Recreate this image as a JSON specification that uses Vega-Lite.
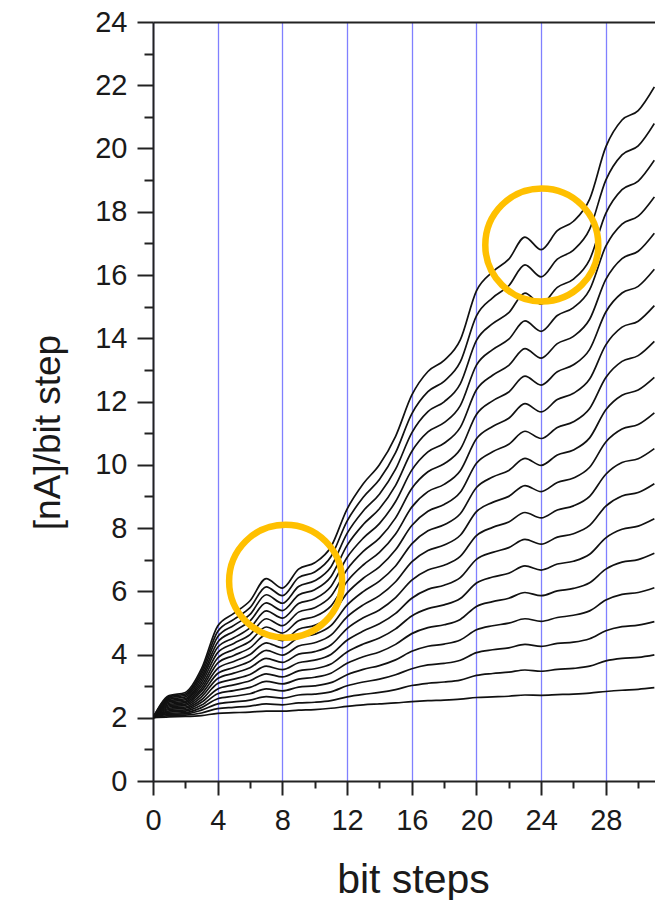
{
"$schema": "https://vega.github.io/schema/vega-lite/v6.json",
"width": 502, "height": 759,
"autosize": {"type": "none"},
"padding": {"left": 153, "top": 22, "right": 0, "bottom": 119},
"background": "white",
"config": {"view": {"stroke": null}, "font": "Liberation Sans",
  "axis": {"labelFont": "Liberation Sans", "titleFont": "Liberation Sans", "domainColor": "#222", "tickColor": "#222", "labelColor": "#1a1a1a", "titleColor": "#1a1a1a"}},
"datasets": {
"marks": [{"x": 8.2, "y": 6.32}, {"x": 24.04, "y": 16.95}],
"curves": [
{"c":1,"x":0,"y":2},{"c":1,"x":1,"y":2.03},{"c":1,"x":2,"y":2.04},{"c":1,"x":3,"y":2.07},{"c":1,"x":4,"y":2.14},{"c":1,"x":5,"y":2.16},{"c":1,"x":6,"y":2.18},{"c":1,"x":7,"y":2.21},{"c":1,"x":8,"y":2.21},{"c":1,"x":9,"y":2.24},{"c":1,"x":10,"y":2.26},{"c":1,"x":11,"y":2.3},{"c":1,"x":12,"y":2.36},{"c":1,"x":13,"y":2.41},{"c":1,"x":14,"y":2.44},{"c":1,"x":15,"y":2.47},{"c":1,"x":16,"y":2.51},{"c":1,"x":17,"y":2.54},{"c":1,"x":18,"y":2.56},{"c":1,"x":19,"y":2.59},{"c":1,"x":20,"y":2.64},{"c":1,"x":21,"y":2.66},{"c":1,"x":22,"y":2.68},{"c":1,"x":23,"y":2.72},{"c":1,"x":24,"y":2.71},{"c":1,"x":25,"y":2.73},{"c":1,"x":26,"y":2.75},{"c":1,"x":27,"y":2.78},{"c":1,"x":28,"y":2.83},{"c":1,"x":29,"y":2.87},{"c":1,"x":30,"y":2.9},{"c":1,"x":31,"y":2.95},
{"c":2,"x":0,"y":2},{"c":2,"x":1,"y":2.07},{"c":2,"x":2,"y":2.08},{"c":2,"x":3,"y":2.15},{"c":2,"x":4,"y":2.29},{"c":2,"x":5,"y":2.33},{"c":2,"x":6,"y":2.37},{"c":2,"x":7,"y":2.44},{"c":2,"x":8,"y":2.41},{"c":2,"x":9,"y":2.47},{"c":2,"x":10,"y":2.49},{"c":2,"x":11,"y":2.54},{"c":2,"x":12,"y":2.66},{"c":2,"x":13,"y":2.74},{"c":2,"x":14,"y":2.8},{"c":2,"x":15,"y":2.89},{"c":2,"x":16,"y":3.02},{"c":2,"x":17,"y":3.09},{"c":2,"x":18,"y":3.13},{"c":2,"x":19,"y":3.19},{"c":2,"x":20,"y":3.34},{"c":2,"x":21,"y":3.4},{"c":2,"x":22,"y":3.44},{"c":2,"x":23,"y":3.51},{"c":2,"x":24,"y":3.47},{"c":2,"x":25,"y":3.53},{"c":2,"x":26,"y":3.56},{"c":2,"x":27,"y":3.63},{"c":2,"x":28,"y":3.8},{"c":2,"x":29,"y":3.88},{"c":2,"x":30,"y":3.91},{"c":2,"x":31,"y":3.99},
{"c":3,"x":0,"y":2},{"c":3,"x":1,"y":2.11},{"c":3,"x":2,"y":2.12},{"c":3,"x":3,"y":2.24},{"c":3,"x":4,"y":2.44},{"c":3,"x":5,"y":2.5},{"c":3,"x":6,"y":2.56},{"c":3,"x":7,"y":2.67},{"c":3,"x":8,"y":2.62},{"c":3,"x":9,"y":2.72},{"c":3,"x":10,"y":2.75},{"c":3,"x":11,"y":2.82},{"c":3,"x":12,"y":3.01},{"c":3,"x":13,"y":3.13},{"c":3,"x":14,"y":3.22},{"c":3,"x":15,"y":3.36},{"c":3,"x":16,"y":3.55},{"c":3,"x":17,"y":3.67},{"c":3,"x":18,"y":3.72},{"c":3,"x":19,"y":3.82},{"c":3,"x":20,"y":4.06},{"c":3,"x":21,"y":4.15},{"c":3,"x":22,"y":4.21},{"c":3,"x":23,"y":4.32},{"c":3,"x":24,"y":4.26},{"c":3,"x":25,"y":4.35},{"c":3,"x":26,"y":4.39},{"c":3,"x":27,"y":4.5},{"c":3,"x":28,"y":4.75},{"c":3,"x":29,"y":4.88},{"c":3,"x":30,"y":4.93},{"c":3,"x":31,"y":5.04},
{"c":4,"x":0,"y":2},{"c":4,"x":1,"y":2.14},{"c":4,"x":2,"y":2.16},{"c":4,"x":3,"y":2.32},{"c":4,"x":4,"y":2.6},{"c":4,"x":5,"y":2.68},{"c":4,"x":6,"y":2.76},{"c":4,"x":7,"y":2.91},{"c":4,"x":8,"y":2.85},{"c":4,"x":9,"y":2.97},{"c":4,"x":10,"y":3.01},{"c":4,"x":11,"y":3.11},{"c":4,"x":12,"y":3.36},{"c":4,"x":13,"y":3.53},{"c":4,"x":14,"y":3.65},{"c":4,"x":15,"y":3.83},{"c":4,"x":16,"y":4.1},{"c":4,"x":17,"y":4.26},{"c":4,"x":18,"y":4.33},{"c":4,"x":19,"y":4.46},{"c":4,"x":20,"y":4.78},{"c":4,"x":21,"y":4.91},{"c":4,"x":22,"y":4.99},{"c":4,"x":23,"y":5.13},{"c":4,"x":24,"y":5.05},{"c":4,"x":25,"y":5.17},{"c":4,"x":26,"y":5.24},{"c":4,"x":27,"y":5.38},{"c":4,"x":28,"y":5.72},{"c":4,"x":29,"y":5.9},{"c":4,"x":30,"y":5.96},{"c":4,"x":31,"y":6.11},
{"c":5,"x":0,"y":2},{"c":5,"x":1,"y":2.18},{"c":5,"x":2,"y":2.21},{"c":5,"x":3,"y":2.4},{"c":5,"x":4,"y":2.76},{"c":5,"x":5,"y":2.86},{"c":5,"x":6,"y":2.96},{"c":5,"x":7,"y":3.15},{"c":5,"x":8,"y":3.07},{"c":5,"x":9,"y":3.22},{"c":5,"x":10,"y":3.28},{"c":5,"x":11,"y":3.41},{"c":5,"x":12,"y":3.72},{"c":5,"x":13,"y":3.93},{"c":5,"x":14,"y":4.08},{"c":5,"x":15,"y":4.32},{"c":5,"x":16,"y":4.66},{"c":5,"x":17,"y":4.85},{"c":5,"x":18,"y":4.94},{"c":5,"x":19,"y":5.11},{"c":5,"x":20,"y":5.52},{"c":5,"x":21,"y":5.67},{"c":5,"x":22,"y":5.78},{"c":5,"x":23,"y":5.96},{"c":5,"x":24,"y":5.86},{"c":5,"x":25,"y":6.01},{"c":5,"x":26,"y":6.09},{"c":5,"x":27,"y":6.27},{"c":5,"x":28,"y":6.7},{"c":5,"x":29,"y":6.92},{"c":5,"x":30,"y":7.0},{"c":5,"x":31,"y":7.2},
{"c":6,"x":0,"y":2},{"c":6,"x":1,"y":2.22},{"c":6,"x":2,"y":2.25},{"c":6,"x":3,"y":2.49},{"c":6,"x":4,"y":2.91},{"c":6,"x":5,"y":3.04},{"c":6,"x":6,"y":3.17},{"c":6,"x":7,"y":3.39},{"c":6,"x":8,"y":3.29},{"c":6,"x":9,"y":3.48},{"c":6,"x":10,"y":3.55},{"c":6,"x":11,"y":3.7},{"c":6,"x":12,"y":4.08},{"c":6,"x":13,"y":4.33},{"c":6,"x":14,"y":4.52},{"c":6,"x":15,"y":4.81},{"c":6,"x":16,"y":5.22},{"c":6,"x":17,"y":5.45},{"c":6,"x":18,"y":5.57},{"c":6,"x":19,"y":5.77},{"c":6,"x":20,"y":6.26},{"c":6,"x":21,"y":6.45},{"c":6,"x":22,"y":6.57},{"c":6,"x":23,"y":6.8},{"c":6,"x":24,"y":6.67},{"c":6,"x":25,"y":6.86},{"c":6,"x":26,"y":6.95},{"c":6,"x":27,"y":7.17},{"c":6,"x":28,"y":7.69},{"c":6,"x":29,"y":7.96},{"c":6,"x":30,"y":8.06},{"c":6,"x":31,"y":8.29},
{"c":7,"x":0,"y":2},{"c":7,"x":1,"y":2.26},{"c":7,"x":2,"y":2.3},{"c":7,"x":3,"y":2.57},{"c":7,"x":4,"y":3.08},{"c":7,"x":5,"y":3.22},{"c":7,"x":6,"y":3.37},{"c":7,"x":7,"y":3.63},{"c":7,"x":8,"y":3.52},{"c":7,"x":9,"y":3.74},{"c":7,"x":10,"y":3.82},{"c":7,"x":11,"y":4.0},{"c":7,"x":12,"y":4.45},{"c":7,"x":13,"y":4.74},{"c":7,"x":14,"y":4.97},{"c":7,"x":15,"y":5.3},{"c":7,"x":16,"y":5.78},{"c":7,"x":17,"y":6.06},{"c":7,"x":18,"y":6.19},{"c":7,"x":19,"y":6.43},{"c":7,"x":20,"y":7.01},{"c":7,"x":21,"y":7.23},{"c":7,"x":22,"y":7.38},{"c":7,"x":23,"y":7.64},{"c":7,"x":24,"y":7.49},{"c":7,"x":25,"y":7.71},{"c":7,"x":26,"y":7.82},{"c":7,"x":27,"y":8.08},{"c":7,"x":28,"y":8.69},{"c":7,"x":29,"y":9.01},{"c":7,"x":30,"y":9.12},{"c":7,"x":31,"y":9.4},
{"c":8,"x":0,"y":2},{"c":8,"x":1,"y":2.3},{"c":8,"x":2,"y":2.34},{"c":8,"x":3,"y":2.66},{"c":8,"x":4,"y":3.24},{"c":8,"x":5,"y":3.41},{"c":8,"x":6,"y":3.58},{"c":8,"x":7,"y":3.88},{"c":8,"x":8,"y":3.75},{"c":8,"x":9,"y":4.01},{"c":8,"x":10,"y":4.09},{"c":8,"x":11,"y":4.3},{"c":8,"x":12,"y":4.82},{"c":8,"x":13,"y":5.16},{"c":8,"x":14,"y":5.41},{"c":8,"x":15,"y":5.8},{"c":8,"x":16,"y":6.35},{"c":8,"x":17,"y":6.67},{"c":8,"x":18,"y":6.82},{"c":8,"x":19,"y":7.1},{"c":8,"x":20,"y":7.76},{"c":8,"x":21,"y":8.02},{"c":8,"x":22,"y":8.19},{"c":8,"x":23,"y":8.49},{"c":8,"x":24,"y":8.32},{"c":8,"x":25,"y":8.57},{"c":8,"x":26,"y":8.7},{"c":8,"x":27,"y":9.0},{"c":8,"x":28,"y":9.7},{"c":8,"x":29,"y":10.07},{"c":8,"x":30,"y":10.19},{"c":8,"x":31,"y":10.51},
{"c":9,"x":0,"y":2},{"c":9,"x":1,"y":2.34},{"c":9,"x":2,"y":2.39},{"c":9,"x":3,"y":2.75},{"c":9,"x":4,"y":3.4},{"c":9,"x":5,"y":3.59},{"c":9,"x":6,"y":3.79},{"c":9,"x":7,"y":4.13},{"c":9,"x":8,"y":3.98},{"c":9,"x":9,"y":4.27},{"c":9,"x":10,"y":4.37},{"c":9,"x":11,"y":4.61},{"c":9,"x":12,"y":5.19},{"c":9,"x":13,"y":5.57},{"c":9,"x":14,"y":5.86},{"c":9,"x":15,"y":6.3},{"c":9,"x":16,"y":6.93},{"c":9,"x":17,"y":7.29},{"c":9,"x":18,"y":7.46},{"c":9,"x":19,"y":7.77},{"c":9,"x":20,"y":8.52},{"c":9,"x":21,"y":8.81},{"c":9,"x":22,"y":9.0},{"c":9,"x":23,"y":9.34},{"c":9,"x":24,"y":9.15},{"c":9,"x":25,"y":9.44},{"c":9,"x":26,"y":9.58},{"c":9,"x":27,"y":9.92},{"c":9,"x":28,"y":10.72},{"c":9,"x":29,"y":11.13},{"c":9,"x":30,"y":11.27},{"c":9,"x":31,"y":11.64},
{"c":10,"x":0,"y":2},{"c":10,"x":1,"y":2.38},{"c":10,"x":2,"y":2.43},{"c":10,"x":3,"y":2.84},{"c":10,"x":4,"y":3.56},{"c":10,"x":5,"y":3.78},{"c":10,"x":6,"y":4.0},{"c":10,"x":7,"y":4.37},{"c":10,"x":8,"y":4.21},{"c":10,"x":9,"y":4.54},{"c":10,"x":10,"y":4.64},{"c":10,"x":11,"y":4.91},{"c":10,"x":12,"y":5.56},{"c":10,"x":13,"y":5.99},{"c":10,"x":14,"y":6.32},{"c":10,"x":15,"y":6.8},{"c":10,"x":16,"y":7.5},{"c":10,"x":17,"y":7.91},{"c":10,"x":18,"y":8.1},{"c":10,"x":19,"y":8.45},{"c":10,"x":20,"y":9.28},{"c":10,"x":21,"y":9.61},{"c":10,"x":22,"y":9.82},{"c":10,"x":23,"y":10.2},{"c":10,"x":24,"y":9.98},{"c":10,"x":25,"y":10.31},{"c":10,"x":26,"y":10.47},{"c":10,"x":27,"y":10.85},{"c":10,"x":28,"y":11.74},{"c":10,"x":29,"y":12.2},{"c":10,"x":30,"y":12.36},{"c":10,"x":31,"y":12.76},
{"c":11,"x":0,"y":2},{"c":11,"x":1,"y":2.42},{"c":11,"x":2,"y":2.48},{"c":11,"x":3,"y":2.92},{"c":11,"x":4,"y":3.73},{"c":11,"x":5,"y":3.97},{"c":11,"x":6,"y":4.21},{"c":11,"x":7,"y":4.62},{"c":11,"x":8,"y":4.44},{"c":11,"x":9,"y":4.8},{"c":11,"x":10,"y":4.92},{"c":11,"x":11,"y":5.22},{"c":11,"x":12,"y":5.94},{"c":11,"x":13,"y":6.41},{"c":11,"x":14,"y":6.77},{"c":11,"x":15,"y":7.31},{"c":11,"x":16,"y":8.08},{"c":11,"x":17,"y":8.53},{"c":11,"x":18,"y":8.74},{"c":11,"x":19,"y":9.13},{"c":11,"x":20,"y":10.05},{"c":11,"x":21,"y":10.41},{"c":11,"x":22,"y":10.65},{"c":11,"x":23,"y":11.06},{"c":11,"x":24,"y":10.83},{"c":11,"x":25,"y":11.18},{"c":11,"x":26,"y":11.36},{"c":11,"x":27,"y":11.78},{"c":11,"x":28,"y":12.76},{"c":11,"x":29,"y":13.27},{"c":11,"x":30,"y":13.45},{"c":11,"x":31,"y":13.9},
{"c":12,"x":0,"y":2},{"c":12,"x":1,"y":2.46},{"c":12,"x":2,"y":2.52},{"c":12,"x":3,"y":3.01},{"c":12,"x":4,"y":3.89},{"c":12,"x":5,"y":4.16},{"c":12,"x":6,"y":4.42},{"c":12,"x":7,"y":4.87},{"c":12,"x":8,"y":4.68},{"c":12,"x":9,"y":5.07},{"c":12,"x":10,"y":5.2},{"c":12,"x":11,"y":5.53},{"c":12,"x":12,"y":6.31},{"c":12,"x":13,"y":6.83},{"c":12,"x":14,"y":7.23},{"c":12,"x":15,"y":7.81},{"c":12,"x":16,"y":8.66},{"c":12,"x":17,"y":9.15},{"c":12,"x":18,"y":9.38},{"c":12,"x":19,"y":9.81},{"c":12,"x":20,"y":10.82},{"c":12,"x":21,"y":11.21},{"c":12,"x":22,"y":11.47},{"c":12,"x":23,"y":11.93},{"c":12,"x":24,"y":11.67},{"c":12,"x":25,"y":12.06},{"c":12,"x":26,"y":12.26},{"c":12,"x":27,"y":12.71},{"c":12,"x":28,"y":13.79},{"c":12,"x":29,"y":14.35},{"c":12,"x":30,"y":14.54},{"c":12,"x":31,"y":15.03},
{"c":13,"x":0,"y":2},{"c":13,"x":1,"y":2.5},{"c":13,"x":2,"y":2.57},{"c":13,"x":3,"y":3.1},{"c":13,"x":4,"y":4.06},{"c":13,"x":5,"y":4.35},{"c":13,"x":6,"y":4.63},{"c":13,"x":7,"y":5.13},{"c":13,"x":8,"y":4.91},{"c":13,"x":9,"y":5.34},{"c":13,"x":10,"y":5.48},{"c":13,"x":11,"y":5.84},{"c":13,"x":12,"y":6.69},{"c":13,"x":13,"y":7.26},{"c":13,"x":14,"y":7.68},{"c":13,"x":15,"y":8.32},{"c":13,"x":16,"y":9.25},{"c":13,"x":17,"y":9.78},{"c":13,"x":18,"y":10.03},{"c":13,"x":19,"y":10.49},{"c":13,"x":20,"y":11.59},{"c":13,"x":21,"y":12.02},{"c":13,"x":22,"y":12.3},{"c":13,"x":23,"y":12.8},{"c":13,"x":24,"y":12.52},{"c":13,"x":25,"y":12.94},{"c":13,"x":26,"y":13.16},{"c":13,"x":27,"y":13.65},{"c":13,"x":28,"y":14.83},{"c":13,"x":29,"y":15.43},{"c":13,"x":30,"y":15.64},{"c":13,"x":31,"y":16.18},
{"c":14,"x":0,"y":2},{"c":14,"x":1,"y":2.54},{"c":14,"x":2,"y":2.61},{"c":14,"x":3,"y":3.19},{"c":14,"x":4,"y":4.23},{"c":14,"x":5,"y":4.53},{"c":14,"x":6,"y":4.84},{"c":14,"x":7,"y":5.38},{"c":14,"x":8,"y":5.15},{"c":14,"x":9,"y":5.61},{"c":14,"x":10,"y":5.76},{"c":14,"x":11,"y":6.15},{"c":14,"x":12,"y":7.07},{"c":14,"x":13,"y":7.68},{"c":14,"x":14,"y":8.14},{"c":14,"x":15,"y":8.84},{"c":14,"x":16,"y":9.83},{"c":14,"x":17,"y":10.41},{"c":14,"x":18,"y":10.68},{"c":14,"x":19,"y":11.18},{"c":14,"x":20,"y":12.37},{"c":14,"x":21,"y":12.83},{"c":14,"x":22,"y":13.14},{"c":14,"x":23,"y":13.67},{"c":14,"x":24,"y":13.37},{"c":14,"x":25,"y":13.83},{"c":14,"x":26,"y":14.06},{"c":14,"x":27,"y":14.6},{"c":14,"x":28,"y":15.86},{"c":14,"x":29,"y":16.52},{"c":14,"x":30,"y":16.75},{"c":14,"x":31,"y":17.32},
{"c":15,"x":0,"y":2},{"c":15,"x":1,"y":2.58},{"c":15,"x":2,"y":2.66},{"c":15,"x":3,"y":3.28},{"c":15,"x":4,"y":4.39},{"c":15,"x":5,"y":4.73},{"c":15,"x":6,"y":5.06},{"c":15,"x":7,"y":5.63},{"c":15,"x":8,"y":5.39},{"c":15,"x":9,"y":5.88},{"c":15,"x":10,"y":6.05},{"c":15,"x":11,"y":6.46},{"c":15,"x":12,"y":7.45},{"c":15,"x":13,"y":8.11},{"c":15,"x":14,"y":8.61},{"c":15,"x":15,"y":9.35},{"c":15,"x":16,"y":10.42},{"c":15,"x":17,"y":11.04},{"c":15,"x":18,"y":11.33},{"c":15,"x":19,"y":11.87},{"c":15,"x":20,"y":13.15},{"c":15,"x":21,"y":13.64},{"c":15,"x":22,"y":13.97},{"c":15,"x":23,"y":14.55},{"c":15,"x":24,"y":14.22},{"c":15,"x":25,"y":14.72},{"c":15,"x":26,"y":14.97},{"c":15,"x":27,"y":15.54},{"c":15,"x":28,"y":16.91},{"c":15,"x":29,"y":17.61},{"c":15,"x":30,"y":17.86},{"c":15,"x":31,"y":18.47},
{"c":16,"x":0,"y":2},{"c":16,"x":1,"y":2.62},{"c":16,"x":2,"y":2.71},{"c":16,"x":3,"y":3.37},{"c":16,"x":4,"y":4.56},{"c":16,"x":5,"y":4.92},{"c":16,"x":6,"y":5.27},{"c":16,"x":7,"y":5.89},{"c":16,"x":8,"y":5.62},{"c":16,"x":9,"y":6.15},{"c":16,"x":10,"y":6.33},{"c":16,"x":11,"y":6.77},{"c":16,"x":12,"y":7.83},{"c":16,"x":13,"y":8.54},{"c":16,"x":14,"y":9.07},{"c":16,"x":15,"y":9.86},{"c":16,"x":16,"y":11.01},{"c":16,"x":17,"y":11.68},{"c":16,"x":18,"y":11.99},{"c":16,"x":19,"y":12.56},{"c":16,"x":20,"y":13.93},{"c":16,"x":21,"y":14.46},{"c":16,"x":22,"y":14.81},{"c":16,"x":23,"y":15.43},{"c":16,"x":24,"y":15.08},{"c":16,"x":25,"y":15.61},{"c":16,"x":26,"y":15.87},{"c":16,"x":27,"y":16.49},{"c":16,"x":28,"y":17.95},{"c":16,"x":29,"y":18.7},{"c":16,"x":30,"y":18.97},{"c":16,"x":31,"y":19.63},
{"c":17,"x":0,"y":2},{"c":17,"x":1,"y":2.66},{"c":17,"x":2,"y":2.75},{"c":17,"x":3,"y":3.46},{"c":17,"x":4,"y":4.73},{"c":17,"x":5,"y":5.11},{"c":17,"x":6,"y":5.48},{"c":17,"x":7,"y":6.14},{"c":17,"x":8,"y":5.86},{"c":17,"x":9,"y":6.43},{"c":17,"x":10,"y":6.61},{"c":17,"x":11,"y":7.09},{"c":17,"x":12,"y":8.22},{"c":17,"x":13,"y":8.97},{"c":17,"x":14,"y":9.53},{"c":17,"x":15,"y":10.38},{"c":17,"x":16,"y":11.61},{"c":17,"x":17,"y":12.31},{"c":17,"x":18,"y":12.64},{"c":17,"x":19,"y":13.25},{"c":17,"x":20,"y":14.71},{"c":17,"x":21,"y":15.28},{"c":17,"x":22,"y":15.66},{"c":17,"x":23,"y":16.32},{"c":17,"x":24,"y":15.94},{"c":17,"x":25,"y":16.5},{"c":17,"x":26,"y":16.79},{"c":17,"x":27,"y":17.45},{"c":17,"x":28,"y":19.0},{"c":17,"x":29,"y":19.8},{"c":17,"x":30,"y":20.08},{"c":17,"x":31,"y":20.79},
{"c":18,"x":0,"y":2},{"c":18,"x":1,"y":2.7},{"c":18,"x":2,"y":2.8},{"c":18,"x":3,"y":3.55},{"c":18,"x":4,"y":4.9},{"c":18,"x":5,"y":5.3},{"c":18,"x":6,"y":5.7},{"c":18,"x":7,"y":6.4},{"c":18,"x":8,"y":6.1},{"c":18,"x":9,"y":6.7},{"c":18,"x":10,"y":6.9},{"c":18,"x":11,"y":7.4},{"c":18,"x":12,"y":8.6},{"c":18,"x":13,"y":9.4},{"c":18,"x":14,"y":10.0},{"c":18,"x":15,"y":10.9},{"c":18,"x":16,"y":12.2},{"c":18,"x":17,"y":12.95},{"c":18,"x":18,"y":13.3},{"c":18,"x":19,"y":13.95},{"c":18,"x":20,"y":15.5},{"c":18,"x":21,"y":16.1},{"c":18,"x":22,"y":16.5},{"c":18,"x":23,"y":17.2},{"c":18,"x":24,"y":16.8},{"c":18,"x":25,"y":17.4},{"c":18,"x":26,"y":17.7},{"c":18,"x":27,"y":18.4},{"c":18,"x":28,"y":20.05},{"c":18,"x":29,"y":20.9},{"c":18,"x":30,"y":21.2},{"c":18,"x":31,"y":21.95}
]},
"layer": [
{"data": {"name": "curves"},
 "mark": {"type": "line", "color": "#111", "strokeWidth": 1.7, "interpolate": "monotone", "clip": true},
 "encoding": {
  "x": {"field": "x", "type": "quantitative", "scale": {"domain": [0, 31.04], "nice": false, "zero": false},
    "axis": {"orient": "bottom", "values": [0,4,8,12,16,20,24,28], "grid": true, "gridColor": "#8080ff", "gridWidth": 1.3, "gridOpacity": 1,
      "tickSize": 14, "tickWidth": 2, "domainWidth": 2, "labelFontSize": 29, "labelPadding": 11, "labelFlush": false, "labelOverlap": false,
      "title": "bit steps", "titleFontSize": 41, "titleFontWeight": "normal", "titleBaseline": "alphabetic", "titleAlign": "center", "titleX": 260, "titleY": 111}},
  "y": {"field": "y", "type": "quantitative", "scale": {"domain": [0, 24], "nice": false},
    "axis": {"orient": "left", "values": [0,2,4,6,8,10,12,14,16,18,20,22,24], "grid": false,
      "tickSize": 16, "tickWidth": 2, "domainWidth": 2, "labelFontSize": 29, "labelPadding": 10, "labelOverlap": false,
      "title": "[nA]/bit step", "titleFontSize": 37, "titleFontWeight": "normal", "titleAngle": -90, "titleBaseline": "alphabetic", "titleAlign": "center", "titleX": -94, "titleY": 410}},
  "detail": {"field": "c", "type": "nominal"}
 }},
{"data": {"name": "marks"},
 "mark": {"type": "point", "shape": "circle", "filled": false, "stroke": "#FFC000", "strokeWidth": 6.5, "size": 12769, "opacity": 1},
 "encoding": {
  "x": {"field": "x", "type": "quantitative", "axis": {"orient": "bottom", "values": [2,6,10,14,18,22,26,30], "tickSize": 7, "tickWidth": 2, "domain": false, "labels": false, "grid": false, "title": null}},
  "y": {"field": "y", "type": "quantitative", "axis": {"orient": "left", "values": [1,3,5,7,9,11,13,15,17,19,21,23], "tickSize": 9, "tickWidth": 2, "domain": false, "labels": false, "grid": false, "title": null}}
 }},
{"data": {"name": "marks"},
 "mark": {"type": "point", "opacity": 0},
 "encoding": {
  "x": {"field": "x", "type": "quantitative", "axis": {"orient": "top", "domain": true, "domainWidth": 2, "ticks": false, "labels": false, "grid": false, "title": null}},
  "y": {"field": "y", "type": "quantitative", "axis": null}
 }}
],
"resolve": {"axis": {"x": "independent", "y": "independent"}}
}
